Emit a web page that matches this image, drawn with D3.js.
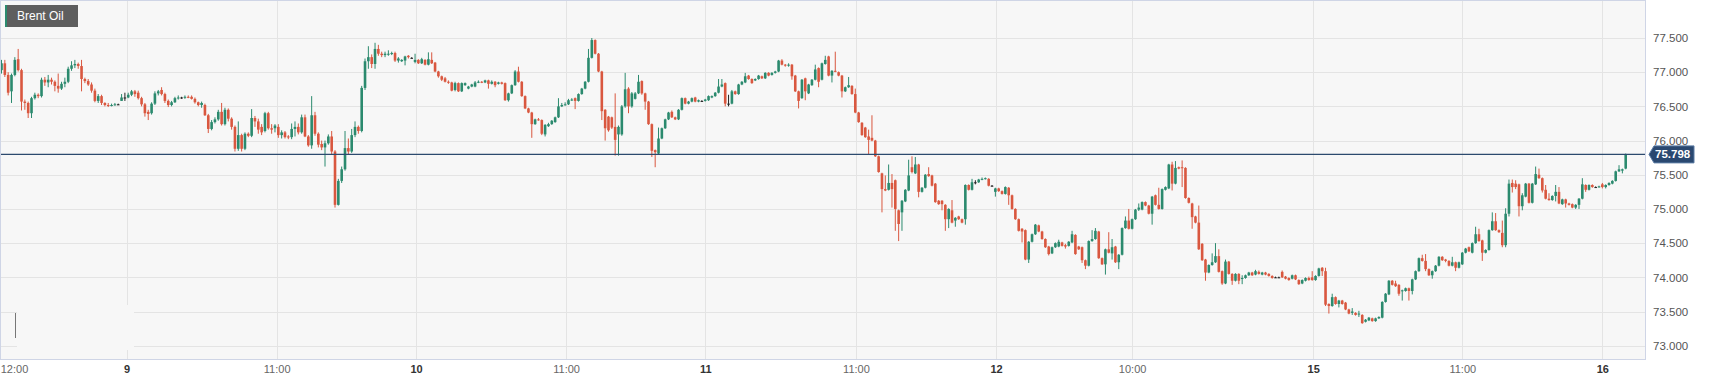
<!DOCTYPE html>
<html><head><meta charset="utf-8">
<script src="https://cdn.jsdelivr.net/npm/d3@7/dist/d3.min.js"></script>
<style>
html,body{margin:0;padding:0;background:#fff;}
svg{display:block;font-family:Arial,"Liberation Sans",sans-serif;}
</style></head><body>
<svg id="chart" width="1710" height="385"></svg>
<script>
const title = "Brent Oil";
const lastPrice = 75.798;
const yTicks = [73, 73.5, 74, 74.5, 75, 75.5, 76, 76.5, 77, 77.5];
const xTickIdx = [3.75, 37.5, 82.5, 124.3, 169.3, 211, 256.2, 298.2, 339, 393.3, 438, 480];
const xTickLabels = ["12:00", "9", "11:00", "10", "11:00", "11", "11:00", "12", "10:00", "15", "11:00", "16"];

const open = [
77.03,77.13,76.96,76.72,76.96,77.19,77.03,76.57,76.55,76.40,
76.62,76.67,76.65,76.89,76.85,76.89,76.86,76.80,76.76,76.83,
76.86,77.05,77.10,77.12,77.09,76.90,76.87,76.82,76.73,76.58,
76.65,76.55,76.52,76.51,76.52,76.53,76.58,76.63,76.63,76.67,
76.72,76.70,76.62,76.53,76.42,76.40,76.54,76.69,76.74,76.68,
76.58,76.52,76.56,76.62,76.63,76.63,76.64,76.64,76.61,76.56,
76.52,76.52,76.37,76.17,76.27,76.31,76.42,76.24,76.45,76.32,
76.20,75.88,76.08,75.88,76.10,76.07,76.33,76.28,76.20,76.14,
76.40,76.18,76.18,76.20,76.08,76.12,76.06,76.05,76.17,76.20,
76.12,76.34,76.06,75.93,76.37,76.10,75.95,75.90,75.96,76.06,
75.84,75.06,75.41,75.58,75.89,75.84,76.08,76.20,76.14,76.77,
77.16,77.22,77.12,77.34,77.27,77.25,77.26,77.27,77.28,77.17,
77.16,77.17,77.24,77.21,77.15,77.18,77.13,77.18,77.11,77.18,
77.14,77.01,76.94,76.91,76.86,76.85,76.74,76.84,76.72,76.81,
76.76,76.79,76.79,76.85,76.86,76.85,76.88,76.83,76.86,76.83,
76.85,76.84,76.59,76.69,76.81,77.01,76.86,76.65,76.47,76.41,
76.24,76.31,76.30,76.09,76.21,76.24,76.27,76.34,76.50,76.52,
76.53,76.59,76.62,76.58,76.68,76.76,76.86,77.21,77.47,77.27,
77.01,76.45,76.35,76.34,76.20,76.09,76.09,76.50,76.76,76.50,
76.61,76.69,76.87,76.69,76.57,76.24,75.86,75.81,76.03,76.18,
76.31,76.42,76.34,76.31,76.45,76.62,76.54,76.57,76.63,76.57,
76.58,76.58,76.59,76.63,76.65,76.70,76.79,76.84,76.54,76.54,
76.72,76.68,76.82,76.85,76.95,76.90,76.88,76.90,76.94,76.91,
76.99,76.96,76.99,77.01,77.17,77.11,77.10,77.11,76.95,76.72,
76.62,76.91,76.69,76.81,76.89,77.06,76.89,77.12,77.23,76.95,
77.02,77.00,76.95,76.72,76.78,76.80,76.68,76.41,76.26,76.19,
76.06,76.04,76.00,75.77,75.52,75.29,75.28,75.38,75.42,74.98,
74.95,75.11,75.27,75.61,75.52,75.65,75.25,75.31,75.51,75.49,
75.37,75.12,75.12,75.06,74.85,74.98,74.83,74.89,74.85,74.85,
75.35,75.28,75.39,75.39,75.43,75.44,75.44,75.34,75.25,75.30,
75.26,75.22,75.31,75.20,75.00,74.85,74.71,74.69,74.26,74.52,
74.63,74.76,74.67,74.56,74.45,74.35,74.44,74.45,74.51,74.47,
74.46,74.51,74.62,74.45,74.44,74.25,74.17,74.53,74.56,74.67,
74.28,74.19,74.41,74.35,74.45,74.22,74.33,74.72,74.83,74.71,
74.85,74.99,74.99,75.10,75.05,74.93,75.20,75.06,75.00,75.28,
75.30,75.65,75.37,75.61,75.61,75.60,75.16,75.08,74.89,74.80,
74.49,74.26,74.07,74.18,74.22,74.31,74.09,73.91,74.23,74.05,
73.95,74.05,73.98,73.99,74.03,74.07,74.04,74.08,74.04,74.07,
74.05,74.02,74.00,74.00,74.08,74.01,73.99,73.98,74.03,73.96,
73.91,73.95,73.99,74.00,73.96,74.02,74.14,74.09,73.61,73.58,
73.71,73.61,73.66,73.63,73.53,73.48,73.48,73.46,73.45,73.35,
73.37,73.40,73.36,73.40,73.41,73.64,73.75,73.95,73.91,73.89,
73.80,73.80,73.84,73.80,73.97,74.09,74.28,74.24,74.12,74.03,
74.09,74.17,74.30,74.26,74.24,74.17,74.22,74.14,74.19,74.36,
74.44,74.36,74.50,74.63,74.54,74.36,74.40,74.69,74.82,74.69,
74.65,74.47,74.93,75.38,75.37,75.36,75.04,75.18,75.37,75.09,
75.36,75.50,75.45,75.28,75.15,75.13,75.19,75.25,75.07,75.14,
75.08,75.07,75.02,75.06,75.15,75.35,75.28,75.35,75.32,75.32,
75.36,75.32,75.35,75.37,75.41,75.55,75.56,75.59];

const high = [
77.18,77.18,77.00,76.98,77.22,77.34,77.05,76.60,76.57,76.64,
76.70,76.69,76.92,76.93,76.96,76.92,76.88,76.98,76.86,76.92,
77.08,77.16,77.18,77.14,77.18,76.92,76.90,76.85,76.76,76.68,
76.67,76.56,76.55,76.54,76.55,76.54,76.68,76.70,76.70,76.74,
76.74,76.73,76.64,76.55,76.45,76.56,76.72,76.74,76.78,76.70,
76.60,76.58,76.64,76.66,76.64,76.66,76.66,76.66,76.63,76.57,
76.57,76.54,76.39,76.30,76.34,76.45,76.55,76.48,76.47,76.34,
76.22,76.28,76.10,76.12,76.12,76.46,76.36,76.32,76.24,76.42,
76.42,76.24,76.24,76.24,76.15,76.14,76.08,76.25,76.28,76.25,
76.38,76.38,76.08,76.65,76.42,76.12,76.00,76.00,76.09,76.14,
75.86,75.44,75.62,76.14,76.03,76.17,76.28,76.22,76.80,77.20,
77.38,77.26,77.43,77.40,77.30,77.30,77.32,77.30,77.30,77.22,
77.19,77.24,77.25,77.22,77.27,77.19,77.21,77.19,77.29,77.29,
77.15,77.02,76.95,76.93,76.88,76.86,76.86,76.85,76.85,76.85,
76.80,76.83,76.87,76.88,76.87,76.89,76.89,76.88,76.87,76.86,
76.86,76.85,76.70,76.82,77.03,77.08,76.87,76.66,76.48,76.42,
76.32,76.33,76.31,76.24,76.26,76.30,76.35,76.62,76.55,76.56,
76.61,76.62,76.63,76.69,76.77,76.87,77.34,77.50,77.48,77.28,
77.02,76.46,76.36,76.35,76.69,76.22,76.52,76.99,76.78,76.71,
76.71,76.96,76.88,76.70,76.58,76.25,75.87,76.19,76.19,76.32,
76.42,76.44,76.35,76.46,76.63,76.63,76.58,76.63,76.64,76.60,
76.59,76.61,76.66,76.66,76.71,76.90,76.90,76.85,76.67,76.74,
76.73,76.83,76.87,76.99,76.96,76.91,76.91,76.96,76.95,77.00,
77.00,77.00,77.02,77.18,77.19,77.12,77.13,77.12,76.96,76.73,
76.90,76.92,76.83,76.90,77.11,77.07,77.14,77.24,77.24,77.03,
77.30,77.01,76.96,76.79,76.93,76.81,76.76,76.42,76.27,76.20,
76.16,76.37,76.01,75.78,75.53,75.49,75.65,75.51,75.43,74.99,
75.13,75.29,75.72,75.77,75.76,75.66,75.32,75.51,75.61,75.50,
75.38,75.13,75.13,75.07,75.01,75.13,74.88,74.90,74.86,75.36,
75.36,75.44,75.42,75.44,75.46,75.46,75.45,75.35,75.31,75.31,
75.27,75.33,75.32,75.21,75.01,74.86,74.72,74.70,74.53,74.64,
74.78,74.77,74.68,74.57,74.46,74.45,74.51,74.55,74.52,74.49,
74.53,74.68,74.63,74.46,74.45,74.26,74.54,74.69,74.72,74.68,
74.29,74.42,74.66,74.56,74.46,74.34,74.73,74.89,75.00,74.86,
75.00,75.08,75.11,75.11,75.06,75.19,75.21,75.31,75.30,75.33,
75.66,75.69,75.70,75.62,75.71,75.61,75.17,75.09,74.90,75.05,
74.50,74.27,74.19,74.35,74.50,74.41,74.10,74.26,74.24,74.06,
74.06,74.06,74.03,74.04,74.08,74.08,74.11,74.10,74.08,74.08,
74.06,74.03,74.01,74.01,74.10,74.02,74.00,74.04,74.04,73.97,
73.97,74.00,74.01,74.09,74.03,74.14,74.15,74.14,73.62,73.76,
73.72,73.67,73.67,73.64,73.54,73.55,73.49,73.51,73.46,73.39,
73.42,73.41,73.41,73.43,73.65,73.77,73.96,73.96,73.95,73.90,
73.82,73.85,73.85,73.98,74.10,74.29,74.33,74.34,74.13,74.10,
74.18,74.31,74.31,74.27,74.25,74.30,74.23,74.23,74.37,74.43,
74.45,74.51,74.74,74.71,74.55,74.41,74.70,74.95,74.94,74.70,
74.83,75.01,75.43,75.43,75.42,75.37,75.23,75.38,75.38,75.38,
75.62,75.59,75.46,75.35,75.23,75.20,75.35,75.32,75.15,75.15,
75.09,75.08,75.07,75.16,75.45,75.36,75.36,75.36,75.33,75.34,
75.38,75.36,75.39,75.42,75.56,75.64,75.59,75.81];

const low = [
76.98,76.93,76.66,76.55,76.94,77.01,76.44,76.45,76.33,76.33,
76.60,76.62,76.63,76.80,76.78,76.82,76.72,76.70,76.74,76.78,
76.84,77.02,77.06,77.05,76.72,76.84,76.80,76.70,76.56,76.55,
76.52,76.50,76.49,76.50,76.51,76.52,76.58,76.58,76.62,76.65,
76.64,76.60,76.50,76.35,76.30,76.38,76.52,76.66,76.66,76.55,
76.49,76.50,76.55,76.60,76.61,76.61,76.62,76.60,76.54,76.50,
76.48,76.36,76.11,76.15,76.25,76.29,76.22,76.22,76.28,76.16,
75.84,75.85,75.84,75.86,76.05,76.05,76.20,76.10,76.08,76.12,
76.16,76.10,76.12,76.04,76.03,76.03,76.02,76.02,76.06,76.09,
76.10,76.05,75.91,75.88,76.07,75.90,75.86,75.62,75.94,75.80,
75.02,75.05,75.38,75.56,75.80,75.82,76.05,76.10,76.12,76.74,
77.05,77.06,77.05,77.24,77.22,77.22,77.24,77.25,77.15,77.14,
77.15,77.10,77.20,77.20,77.13,77.12,77.12,77.10,77.10,77.12,
77.00,76.92,76.87,76.85,76.83,76.72,76.72,76.71,76.71,76.80,
76.75,76.78,76.78,76.84,76.84,76.84,76.76,76.82,76.78,76.82,
76.82,76.58,76.57,76.68,76.80,76.85,76.64,76.46,76.40,76.04,
76.23,76.29,76.08,76.06,76.20,76.23,76.26,76.33,76.49,76.51,
76.52,76.58,76.46,76.57,76.67,76.75,76.85,77.20,77.26,77.00,
76.30,76.00,76.13,76.17,75.78,75.78,76.07,76.48,76.40,76.48,
76.60,76.68,76.67,76.45,76.23,75.76,75.61,75.80,76.02,76.17,
76.30,76.33,76.30,76.30,76.44,76.53,76.53,76.56,76.56,76.56,
76.57,76.57,76.58,76.62,76.64,76.69,76.78,76.50,76.50,76.53,
76.67,76.67,76.81,76.84,76.89,76.83,76.87,76.89,76.90,76.90,
76.94,76.95,76.98,77.00,77.10,77.08,77.08,76.89,76.71,76.47,
76.61,76.59,76.68,76.80,76.88,76.78,76.88,77.11,76.94,76.85,
77.00,76.94,76.63,76.71,76.77,76.67,76.40,76.26,76.07,76.04,
75.80,75.99,75.76,75.53,74.95,75.26,75.27,75.02,74.68,74.53,
74.68,75.10,75.26,75.52,75.51,75.17,75.24,75.30,75.47,75.33,
75.09,75.06,74.98,74.68,74.72,74.79,74.74,74.84,74.79,74.77,
75.27,75.27,75.36,75.38,75.42,75.43,75.33,75.33,75.18,75.25,
75.21,75.21,75.06,74.99,74.84,74.67,74.51,74.25,74.21,74.51,
74.62,74.66,74.55,74.43,74.32,74.34,74.43,74.44,74.45,74.42,
74.45,74.50,74.33,74.40,74.21,74.12,74.16,74.52,74.55,74.27,
74.18,74.04,74.35,74.26,74.21,74.12,74.32,74.71,74.70,74.70,
74.84,74.97,74.98,75.04,74.92,74.77,75.05,74.99,74.99,75.27,
75.29,75.27,75.36,75.58,75.32,75.15,75.08,74.71,74.79,74.40,
74.24,73.95,74.06,74.17,74.21,74.07,73.89,73.90,74.04,73.89,
73.94,73.90,73.90,73.98,74.02,74.02,74.03,74.04,74.03,74.03,
74.01,73.98,73.99,73.99,73.99,73.97,73.95,73.97,73.96,73.89,
73.90,73.94,73.95,73.95,73.95,74.01,74.02,73.58,73.47,73.57,
73.60,73.56,73.60,73.52,73.46,73.45,73.44,73.42,73.32,73.34,
73.36,73.35,73.35,73.39,73.40,73.63,73.74,73.88,73.86,73.73,
73.66,73.79,73.66,73.75,73.96,74.08,74.23,74.09,74.02,73.98,
74.08,74.16,74.24,74.22,74.16,74.16,74.09,74.13,74.18,74.35,
74.37,74.35,74.49,74.52,74.24,74.35,74.39,74.68,74.68,74.65,
74.44,74.44,74.89,75.24,75.29,74.89,74.98,75.17,75.08,75.08,
75.35,75.44,75.24,75.14,75.12,75.12,75.11,75.07,75.06,75.02,
75.05,75.01,75.00,75.00,75.14,75.25,75.27,75.31,75.31,75.31,
75.30,75.30,75.34,75.36,75.40,75.54,75.52,75.58];

const close = [
77.13,76.96,76.70,76.96,77.18,77.03,76.57,76.55,76.40,76.62,
76.67,76.65,76.89,76.85,76.89,76.86,76.80,76.76,76.83,76.86,
77.05,77.10,77.12,77.09,76.90,76.87,76.82,76.73,76.58,76.65,
76.55,76.52,76.51,76.52,76.53,76.53,76.63,76.63,76.67,76.72,
76.68,76.62,76.53,76.40,76.39,76.54,76.69,76.72,76.68,76.58,
76.52,76.56,76.62,76.63,76.63,76.64,76.63,76.61,76.56,76.52,
76.55,76.37,76.17,76.27,76.31,76.42,76.24,76.45,76.32,76.20,
75.88,76.08,75.88,76.10,76.07,76.33,76.28,76.16,76.12,76.40,
76.18,76.16,76.22,76.08,76.12,76.05,76.05,76.17,76.20,76.12,
76.34,76.06,75.93,76.37,76.10,75.94,75.90,75.96,76.06,75.84,
75.06,75.41,75.58,75.89,75.84,76.08,76.20,76.14,76.77,77.16,
77.22,77.12,77.34,77.27,77.25,77.27,77.27,77.28,77.17,77.20,
77.18,77.23,77.22,77.21,77.18,77.13,77.19,77.11,77.19,77.13,
77.01,76.94,76.89,76.86,76.85,76.73,76.84,76.72,76.84,76.84,
76.79,76.82,76.85,76.86,76.85,76.88,76.83,76.86,76.81,76.85,
76.83,76.59,76.69,76.81,77.01,76.86,76.65,76.47,76.41,76.24,
76.31,76.30,76.10,76.23,76.24,76.29,76.34,76.50,76.52,76.53,
76.59,76.60,76.58,76.68,76.76,76.86,77.21,77.47,77.27,77.01,
76.43,76.18,76.15,76.19,76.01,76.20,76.50,76.75,76.50,76.69,
76.69,76.86,76.69,76.57,76.24,75.85,75.83,76.03,76.18,76.31,
76.41,76.34,76.31,76.45,76.62,76.54,76.57,76.62,76.57,76.59,
76.58,76.60,76.65,76.65,76.70,76.79,76.82,76.54,76.54,76.72,
76.68,76.82,76.86,76.94,76.90,76.84,76.90,76.95,76.91,76.99,
76.95,76.99,77.01,77.17,77.11,77.10,77.11,76.94,76.72,76.58,
76.89,76.72,76.82,76.89,77.04,76.86,77.13,77.18,76.95,77.02,
77.01,76.95,76.72,76.78,76.81,76.68,76.41,76.27,76.08,76.05,
76.01,76.00,75.77,75.54,75.29,75.27,75.38,75.29,75.00,74.78,
75.12,75.28,75.49,75.54,75.65,75.25,75.31,75.50,75.48,75.34,
75.10,75.07,75.07,74.85,75.00,74.80,74.87,74.85,74.80,75.35,
75.28,75.39,75.39,75.43,75.44,75.45,75.34,75.34,75.30,75.26,
75.22,75.32,75.20,75.00,74.85,74.68,74.67,74.26,74.52,74.63,
74.77,74.67,74.56,74.44,74.34,74.44,74.50,74.52,74.46,74.45,
74.52,74.63,74.34,74.41,74.25,74.17,74.53,74.56,74.68,74.28,
74.19,74.41,74.36,74.44,74.22,74.33,74.72,74.83,74.71,74.85,
74.99,75.02,75.10,75.05,74.93,75.18,75.06,75.00,75.29,75.32,
75.65,75.37,75.60,75.59,75.60,75.16,75.09,74.88,74.80,74.41,
74.25,74.07,74.18,74.22,74.31,74.08,73.91,74.23,74.05,73.95,
74.05,73.95,73.99,74.03,74.07,74.03,74.09,74.05,74.07,74.04,
74.02,73.99,74.00,74.00,74.00,73.98,73.96,74.03,73.97,73.90,
73.96,73.99,73.96,73.96,74.02,74.13,74.09,73.60,73.58,73.71,
73.61,73.66,73.61,73.53,73.47,73.50,73.45,73.47,73.33,73.38,
73.41,73.36,73.40,73.42,73.64,73.76,73.95,73.89,73.87,73.76,
73.81,73.84,73.80,73.97,74.09,74.28,74.24,74.12,74.03,74.09,
74.17,74.30,74.25,74.24,74.17,74.22,74.14,74.22,74.36,74.42,
74.38,74.50,74.63,74.53,74.36,74.40,74.69,74.82,74.69,74.66,
74.47,74.93,75.37,75.32,75.32,75.04,75.20,75.37,75.09,75.37,
75.51,75.45,75.27,75.15,75.13,75.19,75.25,75.08,75.14,75.08,
75.06,75.02,75.06,75.15,75.36,75.28,75.35,75.32,75.32,75.33,
75.32,75.35,75.38,75.41,75.55,75.58,75.58,75.798];

const UP = "#2b8a6e", DOWN = "#d9573f", FLAT = "#222";
const W = 1710, H = 385;
const plot = {left: 0, top: 0, right: 1645, bottom: 359};

const svg = d3.select("#chart");
const N = close.length;
const x = d3.scaleLinear().domain([0, N - 1]).range([1.5, 1625.7]);
const y = d3.scaleLinear().domain([73, 77.5]).range([345.7, 38]);

svg.append("rect").attr("width", W).attr("height", H).attr("fill", "#fff");
svg.append("rect")
  .attr("x", plot.left + 0.5).attr("y", plot.top + 0.5)
  .attr("width", plot.right - plot.left).attr("height", plot.bottom - plot.top)
  .attr("fill", "#f7f7f7");

const grid = svg.append("g").attr("stroke", "#e4e4e4").attr("stroke-width", 1);
grid.selectAll("line.h").data(yTicks).join("line").attr("class", "h")
  .attr("x1", plot.left).attr("x2", plot.right)
  .attr("y1", d => Math.round(y(d)) + 0.5).attr("y2", d => Math.round(y(d)) + 0.5);
grid.selectAll("line.v").data(xTickIdx.filter((d, i) => i > 0)).join("line").attr("class", "v")
  .attr("y1", plot.top).attr("y2", plot.bottom)
  .attr("x1", d => Math.round(x(d)) + 0.5).attr("x2", d => Math.round(x(d)) + 0.5);

// small overlay artifact at lower left
svg.append("rect").attr("x", 17).attr("y", 305).attr("width", 117).attr("height", 45).attr("fill", "#f7f7f7");
svg.append("line").attr("x1", 15.5).attr("x2", 15.5).attr("y1", 313).attr("y2", 338)
  .attr("stroke", "#777").attr("stroke-width", 1);

svg.append("defs").append("clipPath").attr("id", "clip").append("rect")
  .attr("x", plot.left + 1).attr("y", plot.top + 1)
  .attr("width", plot.right - plot.left - 1).attr("height", plot.bottom - plot.top - 1);

const candles = svg.append("g").attr("clip-path", "url(#clip)");
const idx = d3.range(N);
const col = i => close[i] > open[i] ? UP : (close[i] < open[i] ? DOWN : FLAT);

candles.selectAll("line.wick").data(idx).join("line").attr("class", "wick")
  .attr("x1", i => x(i)).attr("x2", i => x(i))
  .attr("y1", i => y(high[i])).attr("y2", i => y(low[i]))
  .attr("stroke", col).attr("stroke-width", 1);

const bw = 2.6;
candles.selectAll("rect.body").data(idx).join("rect").attr("class", "body")
  .attr("x", i => x(i) - bw / 2).attr("width", bw)
  .attr("y", i => Math.min(y(open[i]), y(close[i])))
  .attr("height", i => Math.max(1, Math.abs(y(open[i]) - y(close[i]))))
  .attr("fill", col);

// last price line
svg.append("line")
  .attr("x1", plot.left).attr("x2", plot.right)
  .attr("y1", y(lastPrice)).attr("y2", y(lastPrice))
  .attr("stroke", "#2c4a6e").attr("stroke-width", 1.2);

// plot border
svg.append("rect")
  .attr("x", plot.left + 0.5).attr("y", plot.top + 0.5)
  .attr("width", plot.right - plot.left).attr("height", plot.bottom - plot.top)
  .attr("fill", "none").attr("stroke", "#cfd5e6").attr("stroke-width", 1);

// y axis
const yAxis = svg.append("g").attr("transform", "translate(1653,0)")
  .call(d3.axisRight(y).tickValues(yTicks).tickFormat(d3.format(".3f")).tickSize(0).tickPadding(0));
yAxis.select(".domain").remove();
yAxis.selectAll("text").attr("fill", "#555").attr("font-size", 11.5)
  .attr("font-family", "Arial, 'Liberation Sans', sans-serif");

// x axis
const xAxis = svg.append("g").attr("transform", "translate(0,363)")
  .call(d3.axisBottom(x).tickValues(xTickIdx).tickFormat((d, i) => xTickLabels[i]).tickSize(0).tickPadding(2));
xAxis.select(".domain").remove();
xAxis.selectAll("text")
  .attr("font-size", 11)
  .attr("font-family", "Arial, 'Liberation Sans', sans-serif")
  .attr("fill", (d, i) => xTickLabels[i].includes(":") ? "#666" : "#333")
  .attr("font-weight", (d, i) => xTickLabels[i].includes(":") ? "normal" : "bold");

// last price tag
const py = y(lastPrice);
svg.append("path")
  .attr("d", `M1649,${py} L1654,${py - 8.5} L1694,${py - 8.5} L1694,${py + 8.5} L1654,${py + 8.5} Z`)
  .attr("fill", "#2a4870").attr("stroke", "#5a7aa3").attr("stroke-width", 1);
svg.append("text").attr("x", 1655).attr("y", py).attr("dy", "0.35em")
  .attr("fill", "#fff").attr("font-weight", "bold").attr("font-size", 11.5)
  .text(d3.format(".3f")(lastPrice));

// legend box
const lg = svg.append("g");
lg.append("rect").attr("x", 5).attr("y", 5).attr("width", 73).attr("height", 22).attr("fill", "#5e5e5e");
lg.append("rect").attr("x", 5).attr("y", 5).attr("width", 2).attr("height", 22).attr("fill", UP);
lg.append("text").attr("x", 17).attr("y", 16).attr("dy", "0.35em")
  .attr("fill", "#fff").attr("font-size", 12).text(title);
</script>
</body></html>
